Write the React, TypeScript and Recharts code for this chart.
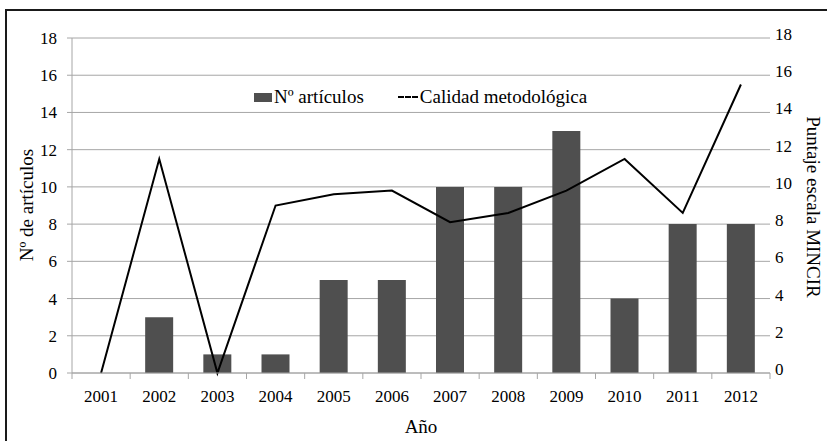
import React from "react";
import {
  Bar,
  CartesianGrid,
  ComposedChart,
  Line,
  XAxis,
  YAxis,
} from "recharts";

const years = ["2001", "2002", "2003", "2004", "2005", "2006", "2007", "2008", "2009", "2010", "2011", "2012"];
const articulos = [0, 3, 1, 1, 5, 5, 10, 10, 13, 4, 8, 8];
const calidad = [0, 11.5, 0, 9.0, 9.6, 9.8, 8.1, 8.6, 9.8, 11.5, 8.6, 15.5];
const yTicks = [0, 2, 4, 6, 8, 10, 12, 14, 16, 18];

const W = 827;
const H = 441;
const LEFT_W = 72;
const RIGHT_W = 57;
const HALF_BAND = (W - LEFT_W - RIGHT_W) / years.length / 2;
const FONT = '"Liberation Serif", serif';
const GRID = "#a6a6a6";

const chartData = years.map((year, i) => ({
  year,
  articulos: articulos[i],
  calidad: calidad[i],
}));

function YearTick(props: any) {
  const { x, y, payload, index } = props;
  return (
    <g>
      <line x1={x - HALF_BAND} x2={x - HALF_BAND} y1={y} y2={y + 6} stroke={GRID} />
      {index === years.length - 1 && (
        <line x1={x + HALF_BAND} x2={x + HALF_BAND} y1={y} y2={y + 6} stroke={GRID} />
      )}
      <text x={x} y={y + 29} textAnchor="middle" style={{ fontFamily: FONT }} fontSize={17} fill="#000">
        {payload.value}
      </text>
    </g>
  );
}

function ChartLegend() {
  return (
    <div
      style={{
        position: "absolute",
        left: 254,
        top: 86,
        display: "flex",
        alignItems: "center",
        fontFamily: FONT,
        fontSize: 19,
        color: "#000",
        whiteSpace: "nowrap",
      }}
    >
      <span style={{ display: "inline-block", width: 18, height: 9, background: "#4f4f4f", marginRight: 2 }} />
      <span>Nº artículos</span>
      <span style={{ display: "inline-block", width: 20, marginLeft: 34, marginRight: 2, borderTop: "2px dashed #000" }} />
      <span>Calidad metodológica</span>
    </div>
  );
}

export default function App() {
  return (
    <div style={{ position: "absolute", left: 0, top: 0, width: W, height: H, overflow: "hidden", background: "#fff" }}>
      <div
        style={{
          position: "absolute",
          left: 5,
          top: 9,
          width: 840,
          height: 460,
          border: "2px solid #1a1a1a",
        }}
      />
      <ComposedChart
        width={W}
        height={H}
        data={chartData}
        margin={{ top: 38, right: 0, bottom: 0, left: 0 }}
        barSize={28}
        style={{ position: "absolute", left: 0, top: 0 }}
      >
        <CartesianGrid stroke={GRID} vertical={false} yAxisId="left" />
        <XAxis
          dataKey="year"
          height={68}
          tickLine={false}
          tickSize={0}
          tickMargin={0}
          axisLine={{ stroke: GRID }}
          tick={<YearTick />}
          interval={0}
        />
        <YAxis
          yAxisId="left"
          width={LEFT_W}
          domain={[0, 18]}
          ticks={yTicks}
          interval={0}
          axisLine={{ stroke: GRID }}
          tickLine={{ stroke: GRID }}
          tickSize={5}
          tickMargin={10}
          tick={{ fill: "#000", style: { fontFamily: FONT }, fontSize: 17 }}
        />
        <YAxis
          yAxisId="right"
          orientation="right"
          width={RIGHT_W}
          domain={[0, 18]}
          ticks={yTicks}
          interval={0}
          axisLine={false}
          tickLine={false}
          tickSize={0}
          tickMargin={5}
          tick={{ fill: "#000", style: { fontFamily: FONT }, fontSize: 17, dy: -4 }}
        />
        <Bar yAxisId="left" dataKey="articulos" name="Nº artículos" fill="#4f4f4f" isAnimationActive={false} />
        <Line
          yAxisId="right"
          dataKey="calidad"
          name="Calidad metodológica"
          type="linear"
          stroke="#000"
          strokeWidth={2}
          dot={false}
          activeDot={false}
          isAnimationActive={false}
        />
      </ComposedChart>
      <ChartLegend />
      <div
        style={{
          position: "absolute",
          left: 27,
          top: 205,
          transform: "translate(-50%, -50%) rotate(-90deg)",
          whiteSpace: "nowrap",
          fontFamily: FONT,
          fontSize: 19,
        }}
      >
        Nº de artículos
      </div>
      <div
        style={{
          position: "absolute",
          left: 813,
          top: 207,
          transform: "translate(-50%, -50%) rotate(90deg)",
          whiteSpace: "nowrap",
          fontFamily: FONT,
          fontSize: 19,
        }}
      >
        Puntaje escala MINCIR
      </div>
      <div
        style={{
          position: "absolute",
          left: 421,
          top: 427,
          transform: "translate(-50%, -50%)",
          fontFamily: FONT,
          fontSize: 19,
        }}
      >
        Año
      </div>
    </div>
  );
}
